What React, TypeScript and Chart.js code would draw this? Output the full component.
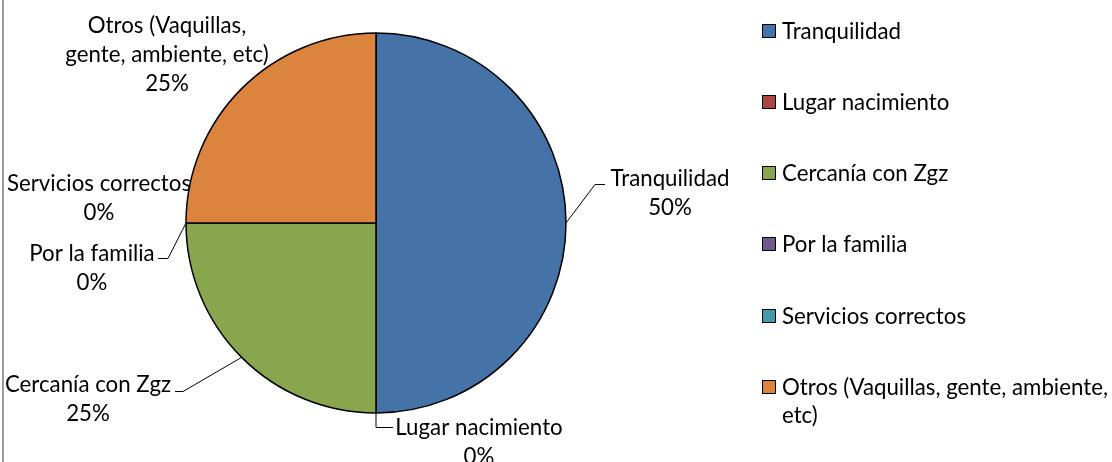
import React, { useEffect, useRef } from "react";
import { Chart, registerables } from "chart.js";

Chart.register(...registerables);

// ---- data ----
const categories = [
  "Tranquilidad",
  "Lugar nacimiento",
  "Cercanía con Zgz",
  "Por la familia",
  "Servicios correctos",
  "Otros (Vaquillas, gente, ambiente, etc)",
];
const values = [50, 0, 25, 0, 0, 25];
const colors = ["#4572A7", "#AA4643", "#89A54E", "#71588F", "#4198AF", "#DB843D"];
const legendLines = [
  ["Tranquilidad"],
  ["Lugar nacimiento"],
  ["Cercanía con Zgz"],
  ["Por la familia"],
  ["Servicios correctos"],
  ["Otros (Vaquillas, gente, ambiente,", "etc)"],
];
const dataLabelLines = [
  ["Tranquilidad"],
  ["Lugar nacimiento"],
  ["Cercanía con Zgz"],
  ["Por la familia"],
  ["Servicios correctos"],
  ["Otros (Vaquillas,", "gente, ambiente, etc)"],
];

// ---- layout (positions of annotation text, not data) ----
const labelLayout = [
  { cx: 670, cy: 178, leader: [[595, 184], [605, 184]] },
  { cx: 479, cy: 427, leader: [[376, 427], [393, 427]] },
  { cx: 88, cy: 384, leader: [[183, 391], [175, 391]] },
  { cx: 92, cy: 253, leader: [[168, 258], [158, 258]] },
  { cx: 99, cy: 183, leader: null },
  { cx: 167, cy: 25, leader: null },
];
const legendY = [31, 102, 173, 244, 316, 387];
const FONT_FAMILY = "Lato, 'Open Sans', sans-serif";

const annotationPlugin = {
  id: "annotations",
  afterDraw(chart: any) {
    const ctx = chart.ctx as CanvasRenderingContext2D;
    ctx.save();
    // fit font size to Calibri-like metrics
    ctx.font = `100px ${FONT_FAMILY}`;
    const w = ctx.measureText("Tranquilidad").width;
    const size = (100 * 119) / w;
    const font = `${size.toFixed(2)}px ${FONT_FAMILY}`;

    // left frame line
    ctx.fillStyle = "#9a9a9a";
    ctx.fillRect(2, 0, 2, chart.height);

    const meta = chart.getDatasetMeta(0);
    const ds = chart.data.datasets[0].data as number[];
    const total = ds.reduce((a: number, b: number) => a + b, 0);

    // leader lines
    ctx.strokeStyle = "#000";
    ctx.lineWidth = 1;
    meta.data.forEach((arc: any, i: number) => {
      const lay = labelLayout[i];
      if (!lay.leader) return;
      const p = arc.getProps(["x", "y", "startAngle", "endAngle", "outerRadius"], true);
      const mid = (p.startAngle + p.endAngle) / 2;
      const ax = p.x + Math.cos(mid) * p.outerRadius;
      const ay = p.y + Math.sin(mid) * p.outerRadius;
      ctx.beginPath();
      ctx.moveTo(ax, ay);
      ctx.lineTo(lay.leader[0][0], lay.leader[0][1] + 0.5);
      ctx.lineTo(lay.leader[1][0], lay.leader[1][1] + 0.5);
      ctx.stroke();
    });

    // data labels
    ctx.font = font;
    ctx.fillStyle = "#000";
    ctx.textAlign = "center";
    ctx.textBaseline = "middle";
    const lh = 29;
    dataLabelLines.forEach((lines, i) => {
      const lay = labelLayout[i];
      const pct = Math.round((ds[i] / total) * 100) + "%";
      const all = [...lines, pct];
      all.forEach((t, k) => ctx.fillText(t, lay.cx, lay.cy + 1 + k * lh));
    });

    // legend
    ctx.textAlign = "left";
    const bg = chart.data.datasets[0].backgroundColor as string[];
    chart.data.labels.forEach((_: string, i: number) => {
      const y = legendY[i];
      ctx.fillStyle = bg[i];
      ctx.fillRect(762.5, y - 6.5, 13, 13);
      ctx.strokeStyle = "#000";
      ctx.strokeRect(762.5, y - 6.5, 13, 13);
      ctx.fillStyle = "#000";
      legendLines[i].forEach((t, k) => ctx.fillText(t, 782, y + 1 + k * 28));
    });
    ctx.restore();
  },
};

export default function App() {
  const ref = useRef<HTMLCanvasElement | null>(null);
  useEffect(() => {
    if (!ref.current) return;
    const chart = new Chart(ref.current, {
      type: "pie",
      data: {
        labels: categories,
        datasets: [
          {
            data: values,
            backgroundColor: colors,
            borderColor: "#000",
            borderWidth: 1.5,
          },
        ],
      },
      options: {
        responsive: false,
        animation: false,
        events: [],
        radius: 190,
        layout: { padding: { left: 0, right: 360, top: 0, bottom: 16 } },
        plugins: {
          legend: { display: false },
          tooltip: { enabled: false },
        },
      } as any,
      plugins: [annotationPlugin],
    });
    return () => chart.destroy();
  }, []);
  return (
    <div style={{ position: "fixed", left: 0, top: 0, width: 1112, height: 462, background: "#fff" }}>
      <canvas ref={ref} width={1112} height={462} style={{ display: "block" }} />
    </div>
  );
}
